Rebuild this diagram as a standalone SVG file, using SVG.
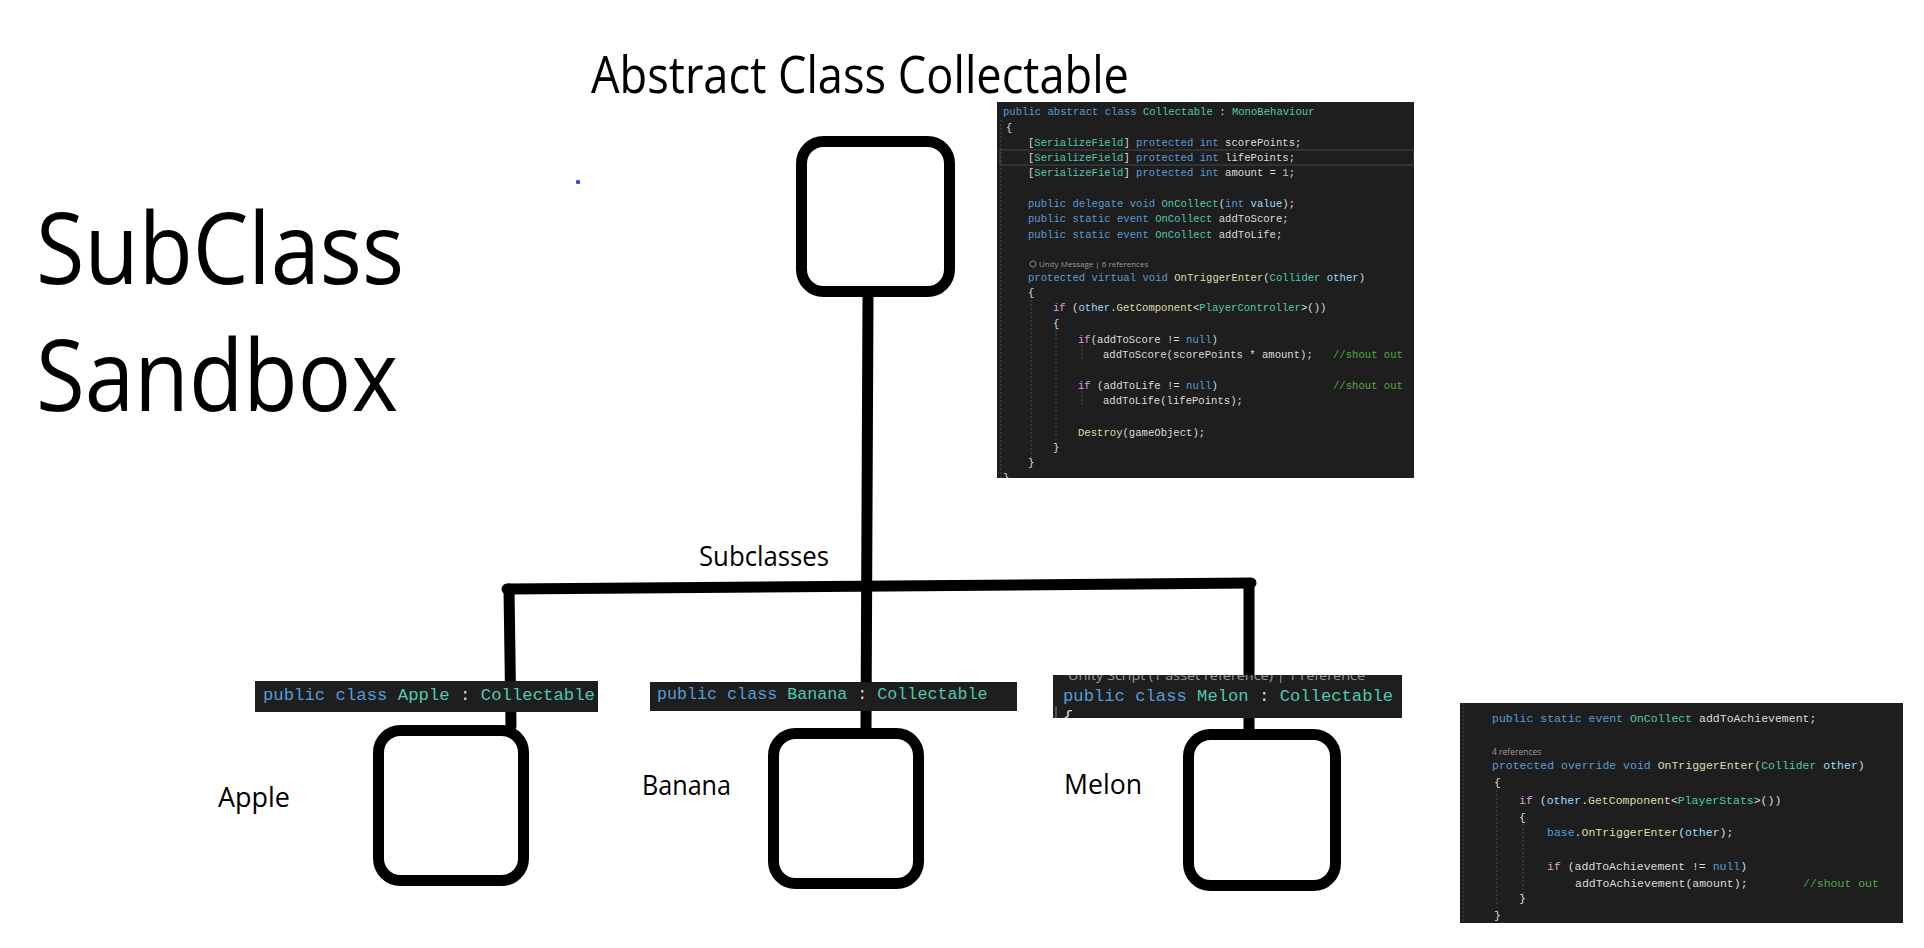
<svg xmlns="http://www.w3.org/2000/svg" width="1924" height="948" viewBox="0 0 1924 948">
<style>
.bx{fill:#fff;stroke:#000;stroke-width:11}
.cn{fill:none;stroke:#000;stroke-width:11;stroke-linecap:round}
.lbl{font-family:"Open Sans","Noto Sans",sans-serif;fill:#000}
.code{fill:#1e1e1e}
.mono{font-family:"Liberation Mono","DejaVu Sans Mono",monospace;fill:#dcdcdc}
.k{fill:#569cd6}.t{fill:#4ec9b0}.m{fill:#dcdcaa}.p{fill:#9cdcfe}.c{fill:#d8a0df}.n{fill:#b5cea8}.g{fill:#57a64a}
.lens{font-family:"Open Sans","Noto Sans",sans-serif;fill:#999}
.guide{stroke:#4a4a4a;stroke-width:1;stroke-dasharray:2 2}
</style>
<defs>
<clipPath id="clip1"><rect x="997" y="102" width="417" height="376"/></clipPath>
<clipPath id="clip2"><rect x="1460" y="703" width="443" height="220"/></clipPath>
<clipPath id="clip3"><rect x="1053" y="675" width="349" height="43"/></clipPath>
</defs>
<rect width="1924" height="948" fill="#fff"/>

<g id="title">
<text class="lbl" x="591" y="93" font-size="52" textLength="538" lengthAdjust="spacingAndGlyphs">Abstract Class Collectable</text>
<text class="lbl" x="36" y="284" font-size="99" textLength="368" lengthAdjust="spacingAndGlyphs">SubClass</text>
<text class="lbl" x="36" y="411" font-size="99" textLength="362" lengthAdjust="spacingAndGlyphs">Sandbox</text>
<circle cx="578" cy="182" r="2.2" fill="#3a4fd0"/>
</g>

<g id="connectors">
<path class="cn" d="M868,297 L866,729"/>
<path class="cn" d="M507,589 L1251,583"/>
<path class="cn" d="M509,589 L511,726"/>
<path class="cn" d="M1249,584 L1249,730"/>
<text class="lbl" x="699" y="566" font-size="28" textLength="130" lengthAdjust="spacingAndGlyphs">Subclasses</text>
</g>

<g id="node-collectable">
<rect class="bx" x="801.5" y="141.5" width="148" height="150" rx="22"/>
</g>

<g id="code-collectable" clip-path="url(#clip1)">
<rect class="code" x="997" y="102" width="417" height="376"/>
<rect x="1000" y="150" width="414" height="15" fill="none" stroke="#464646" stroke-width="1"/>
<line class="guide" x1="1001" y1="120" x2="1001" y2="478"/>
<line class="guide" x1="1031" y1="300" x2="1031" y2="462"/>
<line class="guide" x1="1056" y1="330" x2="1056" y2="447"/>
<line class="guide" x1="1082" y1="345" x2="1082" y2="360"/>
<line class="guide" x1="1082" y1="391" x2="1082" y2="406"/>
<g font-size="10.6" class="mono">
<text x="1003" y="115"><tspan class="k">public abstract class</tspan> <tspan class="t">Collectable</tspan> : <tspan class="t">MonoBehaviour</tspan></text>
<text x="1006" y="131">{</text>
<text x="1028" y="146">[<tspan class="t">SerializeField</tspan>] <tspan class="k">protected int</tspan> scorePoints;</text>
<text x="1028" y="161">[<tspan class="t">SerializeField</tspan>] <tspan class="k">protected int</tspan> lifePoints;</text>
<text x="1028" y="176">[<tspan class="t">SerializeField</tspan>] <tspan class="k">protected int</tspan> amount = <tspan class="n">1</tspan>;</text>
<text x="1028" y="207"><tspan class="k">public delegate void</tspan> <tspan class="t">OnCollect</tspan>(<tspan class="k">int</tspan> <tspan class="p">value</tspan>);</text>
<text x="1028" y="222"><tspan class="k">public static event</tspan> <tspan class="t">OnCollect</tspan> addToScore;</text>
<text x="1028" y="238"><tspan class="k">public static event</tspan> <tspan class="t">OnCollect</tspan> addToLife;</text>
<text x="1028" y="281"><tspan class="k">protected virtual void</tspan> <tspan class="m">OnTriggerEnter</tspan>(<tspan class="t">Collider</tspan> <tspan class="p">other</tspan>)</text>
<text x="1028" y="296">{</text>
<text x="1053" y="311"><tspan class="c">if</tspan> (<tspan class="p">other</tspan>.<tspan class="m">GetComponent</tspan>&lt;<tspan class="t">PlayerController</tspan>&gt;())</text>
<text x="1053" y="327">{</text>
<text x="1078" y="343"><tspan class="c">if</tspan>(addToScore != <tspan class="k">null</tspan>)</text>
<text x="1103" y="358">addToScore(scorePoints * amount);</text>
<text class="g" x="1333" y="358">//shout out</text>
<text x="1078" y="389"><tspan class="c">if</tspan> (addToLife != <tspan class="k">null</tspan>)</text>
<text class="g" x="1333" y="389">//shout out</text>
<text x="1103" y="404">addToLife(lifePoints);</text>
<text x="1078" y="436"><tspan class="m">Destroy</tspan>(gameObject);</text>
<text x="1053" y="451">}</text>
<text x="1028" y="466">}</text>
<text x="1003" y="481">}</text>
</g>
<circle cx="1033" cy="264" r="3" fill="none" stroke="#999" stroke-width="0.8"/>
<text class="lens" x="1039" y="267" font-size="8">Unity Message | 6 references</text>
</g>

<g id="node-apple">
<rect class="bx" x="378.5" y="730.5" width="145" height="150" rx="22"/>
<text class="lbl" x="218" y="807" font-size="27" textLength="72" lengthAdjust="spacingAndGlyphs">Apple</text>
<rect class="code" x="255" y="681" width="343" height="31"/>
<text class="mono" x="263" y="700" font-size="17.3"><tspan class="k">public class</tspan> <tspan class="t">Apple</tspan> : <tspan class="t">Collectable</tspan></text>
</g>

<g id="node-banana">
<rect class="bx" x="773.5" y="733.5" width="145" height="150" rx="22"/>
<text class="lbl" x="642" y="795" font-size="27" textLength="89" lengthAdjust="spacingAndGlyphs">Banana</text>
<rect class="code" x="650" y="682" width="367" height="29"/>
<text class="mono" x="657" y="699" font-size="16.7"><tspan class="k">public class</tspan> <tspan class="t">Banana</tspan> : <tspan class="t">Collectable</tspan></text>
</g>

<g id="node-melon">
<rect class="bx" x="1188.5" y="734.5" width="147" height="151" rx="22"/>
<text class="lbl" x="1064" y="794" font-size="27" textLength="78" lengthAdjust="spacingAndGlyphs">Melon</text>
<g clip-path="url(#clip3)">
<rect class="code" x="1053" y="675" width="349" height="43"/>
<text class="lens" x="1068" y="680" font-size="13" textLength="297" lengthAdjust="spacingAndGlyphs">Unity Script (1 asset reference) | 1 reference</text>
<text class="mono" x="1063" y="701" font-size="17.2"><tspan class="k">public class</tspan> <tspan class="t">Melon</tspan> : <tspan class="t">Collectable</tspan></text>
<text class="mono" x="1063" y="722" font-size="17.2">{</text>
<line x1="1056" y1="706" x2="1056" y2="718" stroke="#888" stroke-width="1"/>
</g>
</g>

<g id="code-melon" clip-path="url(#clip2)">
<rect class="code" x="1460" y="703" width="443" height="220"/>
<line class="guide" x1="1463" y1="703" x2="1463" y2="923"/>
<line class="guide" x1="1497" y1="790" x2="1497" y2="912"/>
<line class="guide" x1="1523" y1="824" x2="1523" y2="895"/>
<g font-size="11.5" class="mono">
<text x="1492" y="722"><tspan class="k">public static event</tspan> <tspan class="t">OnCollect</tspan> addToAchievement;</text>
<text x="1492" y="769"><tspan class="k">protected override void</tspan> <tspan class="m">OnTriggerEnter</tspan>(<tspan class="t">Collider</tspan> <tspan class="p">other</tspan>)</text>
<text x="1494" y="786">{</text>
<text x="1519" y="804"><tspan class="c">if</tspan> (<tspan class="p">other</tspan>.<tspan class="m">GetComponent</tspan>&lt;<tspan class="t">PlayerStats</tspan>&gt;())</text>
<text x="1519" y="821">{</text>
<text x="1547" y="836"><tspan class="k">base</tspan>.<tspan class="m">OnTriggerEnter</tspan>(<tspan class="p">other</tspan>);</text>
<text x="1547" y="870"><tspan class="c">if</tspan> (addToAchievement != <tspan class="k">null</tspan>)</text>
<text x="1575" y="887">addToAchievement(amount);</text>
<text class="g" x="1803" y="887">//shout out</text>
<text x="1519" y="902">}</text>
<text x="1494" y="919">}</text>
</g>
<text class="lens" x="1492" y="755" font-size="8.5">4 references</text>
</g>
</svg>
